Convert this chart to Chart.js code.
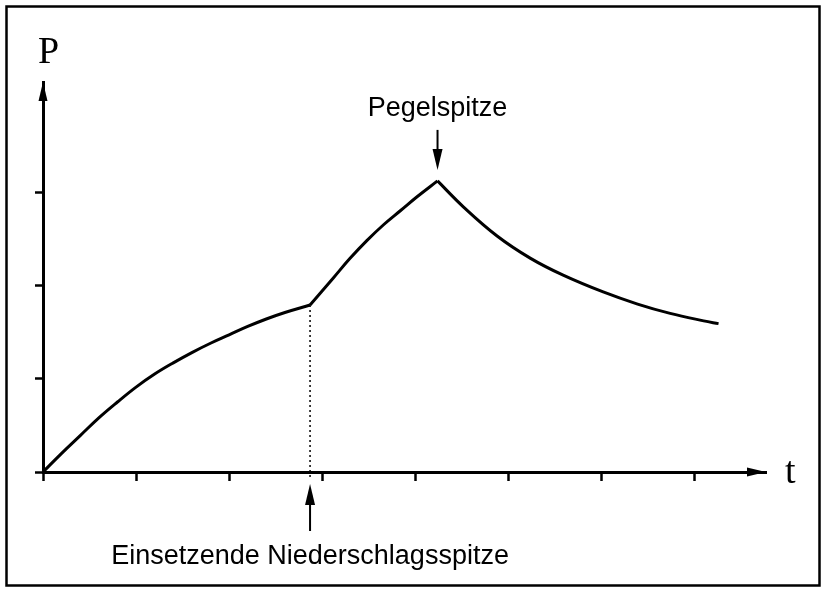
<!DOCTYPE html>
<html>
<head>
<meta charset="utf-8">
<script src="https://cdn.jsdelivr.net/npm/chart.js@4/dist/chart.umd.min.js"></script>
<style>
  html, body { margin: 0; padding: 0; background: #fff; }
  canvas { display: block; }
</style>
</head>
<body>
<canvas id="pegel-chart" width="823" height="591"></canvas>
<script>
// Pegel (P) over time (t), in tick units
var tValues = [0, 0.2, 0.4, 0.6, 0.8, 1.0, 1.2, 1.4, 1.6, 1.8, 2.0, 2.2, 2.4, 2.6, 2.87,
  3.12, 3.30, 3.48, 3.66, 3.84, 4.02, 4.24,
  4.52, 4.88, 5.24, 5.59, 6.02, 6.39, 6.74, 7.10, 7.26];
var pValues = [0, 0.20, 0.39, 0.58, 0.75, 0.91, 1.05, 1.17, 1.28, 1.38, 1.47, 1.56, 1.64, 1.71, 1.79,
  2.08, 2.29, 2.48, 2.65, 2.80, 2.95, 3.12,
  2.84, 2.53, 2.29, 2.11, 1.93, 1.80, 1.70, 1.62, 1.59];
var xTicks = [0, 1, 2, 3, 4, 5, 6, 7];
var yTicks = [0, 1, 2, 3];
var xMax = 7.77;
var yMax = 4.18;
var rainIndex = 14;   // Einsetzende Niederschlagsspitze
var peakIndex = 21;   // Pegelspitze
var rainLabel = "Einsetzende Niederschlagsspitze";
var peakLabel = "Pegelspitze";

// the curve has two kinks, so each piece is its own smooth dataset
function piece(from, to) {
  var pts = [];
  for (var i = from; i <= to; i++) pts.push({ x: tValues[i], y: pValues[i] });
  return {
    data: pts,
    borderColor: '#000',
    borderWidth: 3,
    pointRadius: 0,
    fill: false,
    tension: 0.4
  };
}

function arrowHead(ctx, x, y, dx, dy, len, half) {
  // tip at (x,y), pointing in direction (dx,dy)
  ctx.beginPath();
  ctx.moveTo(x, y);
  ctx.lineTo(x - dx * len - dy * half, y - dy * len + dx * half);
  ctx.lineTo(x - dx * len + dy * half, y - dy * len - dx * half);
  ctx.closePath();
  ctx.fill();
}

var sketchPlugin = {
  id: 'sketch',
  beforeDatasetsDraw: function(chart) {
    var ctx = chart.ctx, xs = chart.scales.x, ys = chart.scales.y;
    var rx = xs.getPixelForValue(tValues[rainIndex]);
    var ry = ys.getPixelForValue(pValues[rainIndex]);
    ctx.save();
    ctx.strokeStyle = '#000';
    ctx.lineWidth = 1.5;
    ctx.setLineDash([2, 3]);
    ctx.beginPath();
    ctx.moveTo(rx, ry);
    ctx.lineTo(rx, chart.chartArea.bottom + 8);
    ctx.stroke();
    ctx.restore();
  },
  afterDraw: function(chart) {
    var ctx = chart.ctx, area = chart.chartArea;
    var xs = chart.scales.x, ys = chart.scales.y;
    ctx.save();
    ctx.fillStyle = '#000';
    ctx.strokeStyle = '#000';

    // outer frame
    ctx.lineWidth = 2.5;
    ctx.strokeRect(6.5, 6.5, 813, 579);

    // axis arrow heads
    arrowHead(ctx, area.right, area.bottom, 1, 0, 19, 4.5);
    arrowHead(ctx, area.left, area.top, 0, -1, 19, 4.5);

    // axis letters
    ctx.font = '38px "Liberation Serif", "DejaVu Serif", serif';
    ctx.textAlign = 'left';
    ctx.textBaseline = 'alphabetic';
    ctx.fillText('P', area.left - 5, 63);
    ctx.fillText('t', area.right + 19, area.bottom + 11);

    // Pegelspitze
    var px = xs.getPixelForValue(tValues[peakIndex]);
    var py = ys.getPixelForValue(pValues[peakIndex]);
    ctx.lineWidth = 2;
    ctx.beginPath();
    ctx.moveTo(px, py - 51);
    ctx.lineTo(px, py - 20);
    ctx.stroke();
    arrowHead(ctx, px, py - 11, 0, 1, 21, 5);
    ctx.font = '27px "Liberation Sans", Arial, sans-serif';
    ctx.textAlign = 'center';
    ctx.fillText(peakLabel, px, py - 65);

    // Einsetzende Niederschlagsspitze
    var rx = xs.getPixelForValue(tValues[rainIndex]);
    ctx.beginPath();
    ctx.moveTo(rx, area.bottom + 59);
    ctx.lineTo(rx, area.bottom + 25);
    ctx.stroke();
    arrowHead(ctx, rx, area.bottom + 12, 0, -1, 21, 5);
    ctx.fillText(rainLabel, rx, area.bottom + 92);
    ctx.restore();
  }
};

new Chart(document.getElementById("pegel-chart"), {
  type: 'line',
  data: {
    datasets: [piece(0, rainIndex), piece(rainIndex, peakIndex), piece(peakIndex, tValues.length - 1)]
  },
  options: {
    responsive: false,
    animation: false,
    devicePixelRatio: 1,
    layout: { padding: { left: 35, top: 82, right: 57, bottom: 110 } },
    plugins: {
      legend: { display: false },
      tooltip: { enabled: false }
    },
    scales: {
      x: {
        type: 'linear',
        min: 0,
        max: xMax,
        afterBuildTicks: function(s) { s.ticks = xTicks.map(function(v) { return { value: v }; }); },
        ticks: { display: false },
        grid: { drawOnChartArea: false, drawTicks: true, tickLength: 9, tickColor: '#000', tickWidth: 2.5 },
        border: { display: true, color: '#000', width: 3 }
      },
      y: {
        type: 'linear',
        min: 0,
        max: yMax,
        afterBuildTicks: function(s) { s.ticks = yTicks.map(function(v) { return { value: v }; }); },
        ticks: { display: false },
        grid: { drawOnChartArea: false, drawTicks: true, tickLength: 8, tickColor: '#000', tickWidth: 2.5 },
        border: { display: true, color: '#000', width: 3 }
      }
    }
  },
  plugins: [sketchPlugin]
});
</script>
</body>
</html>
